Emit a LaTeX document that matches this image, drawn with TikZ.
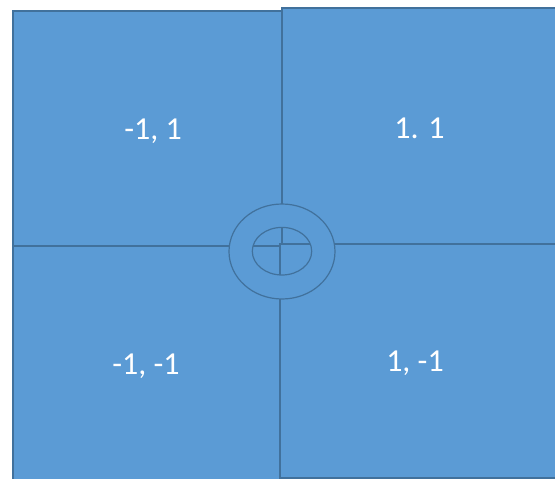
\documentclass[tikz,border=0pt]{standalone}
\usepackage{fontspec}
\setmainfont{Carlito}
\definecolor{fillb}{HTML}{5B9BD5}
\definecolor{edgeb}{HTML}{41719C}
\begin{document}
\begin{tikzpicture}[x=1pt,y=-1pt,
  quad/.style={fill=fillb,draw=edgeb,line width=1.2pt},
  lbl/.style={text=white,font=\fontsize{32}{38}\selectfont,inner sep=0pt}]
\useasboundingbox (0,0) rectangle (555,479);
\fill[white] (0,0) rectangle (555,479);
\draw[quad] (13,11) rectangle (282,246);
\draw[quad] (282,8) rectangle (560,244);
\draw[quad] (13,246) rectangle (280,485);
\draw[quad] (280,244) rectangle (560,478);
\draw[quad,even odd rule] (282,251.5) ellipse [x radius=53, y radius=47.5]
  (282,251.2) ellipse [x radius=29.7, y radius=23.8];
\node[lbl] (tl) at (153,131) {-1, 1};
\node[lbl] (tr) at (419.5,128) {1. 1};
\node[lbl] (bl) at (146,366) {-1, -1};
\node[lbl] (br) at (415,363) {1, -1};
\end{tikzpicture}
\end{document}
